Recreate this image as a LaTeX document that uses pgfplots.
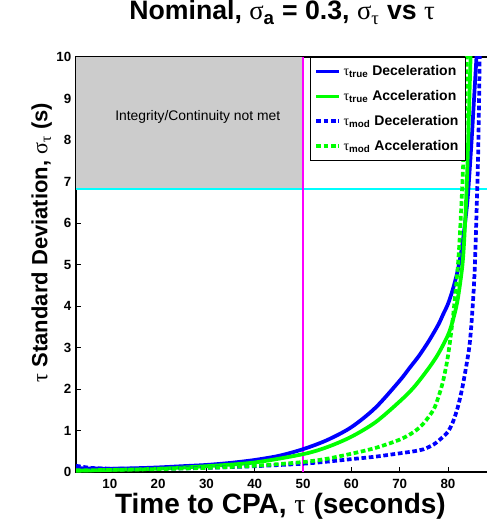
\documentclass[border=0pt]{standalone}
\usepackage{fontspec}
\setmainfont{Liberation Sans}
\newfontfamily\grk{Liberation Serif}
\usepackage{pgfplots}
\pgfplotsset{compat=1.18}
\definecolor{mgreen}{RGB}{0,255,0}
\definecolor{mblue}{RGB}{0,0,255}
\definecolor{mcyan}{RGB}{0,255,255}
\definecolor{mmag}{RGB}{255,0,255}
\definecolor{mgray}{RGB}{204,204,204}

\begin{document}
\begin{tikzpicture}
\begin{axis}[
    scale only axis,
    width=311.6pt, height=311.25pt,
    xmin=3, xmax=89, ymin=0, ymax=10,
    xtick={10,20,...,80}, ytick={0,1,...,10},
    xtick pos=both, xticklabel pos=bottom, ytick pos=left,
    axis line style={line width=0.8pt},
    tick align=inside, major tick length=4pt,
    tick style={black, line width=0.6pt},
    /pgf/number format/assume math mode=true,
    ticklabel style={font=\fontsize{10}{12}\selectfont\bfseries},
    xticklabel style={yshift=-1.5pt},
    title={\bfseries Nominal, {\grk\mdseries σ}\textsubscript{a} = 0.3, {\grk\mdseries σ}\textsubscript{\grk\mdseries τ} vs {\grk\mdseries τ}},
    title style={font=\fontsize{20}{22}\selectfont, at={(rel axis cs:0.496,1)}, anchor=base, yshift=21.75pt},
    xlabel={\bfseries Time to CPA, {\grk\mdseries τ} (seconds)},
    xlabel style={font=\fontsize{21}{23}\selectfont, at={(rel axis cs:0.492,0)}, anchor=base, yshift=-30.75pt},
    ylabel={\bfseries {\grk\mdseries τ} Standard Deviation, {\grk\mdseries σ}\textsubscript{\grk\mdseries τ} (s)},
    ylabel style={font=\fontsize{16.5}{19}\selectfont, at={(rel axis cs:-0.0686,0.553)}, anchor=base},
    legend cell align=left,
    legend style={at={(rel axis cs:0.938,1)}, anchor=north east,
        draw=black, line width=0.8pt, fill=white,
        font=\fontsize{10.5}{12}\selectfont\bfseries,
        row sep=5.5pt, inner ysep=4pt, inner xsep=3pt},
    legend image code/.code={\draw[#1] (0cm,0cm) -- (0.6cm,0cm);},
    every axis plot/.append style={line width=2.8pt},
]
% shaded region (not in legend)
\addplot[forget plot, fill=mgray, draw=none, line width=0pt] coordinates {(3,6.83) (50,6.83) (50,10) (3,10)} -- cycle;
\node[font=\fontsize{10.4}{12}\selectfont] at (axis cs:28.2,8.55) {Integrity/Continuity not met};
\addplot[forget plot, mcyan, line width=1.5pt] coordinates {(3,6.83) (89,6.83)};
\addplot[forget plot, mmag, line width=1.5pt] coordinates {(50,0) (50,10)};

% tau_true deceleration
\addplot[mblue, smooth] coordinates {
(3,0.09)(10,0.08)(15,0.09)(20,0.11)(25,0.14)(30,0.17)(35,0.22)(40,0.29)(45,0.39)
(50,0.55)(55,0.77)(60,1.08)(65,1.55)(70,2.2)(72,2.5)(74,2.8)(76,3.15)(78,3.55)
(79,3.8)(80,4.05)(81,4.4)(82,4.85)(83,5.5)(84,6.5)(84.5,7.3)(85,8.2)(85.5,9.2)(86,10.2)};
\addlegendentry{{\grk\mdseries τ}\textsubscript{true} Deceleration}
% tau_true acceleration
\addplot[mgreen, smooth] coordinates {
(3,0.03)(10,0.05)(20,0.08)(30,0.14)(40,0.23)(50,0.43)(55,0.6)(60,0.85)(65,1.2)
(70,1.7)(73,2.05)(76,2.5)(78,2.85)(80,3.3)(81,3.65)(82,4.15)(83,5.0)(83.5,5.9)
(84,7.3)(84.5,9.3)(84.8,10.5)};
\addlegendentry{{\grk\mdseries τ}\textsubscript{true} Acceleration}
% tau_mod deceleration
\addplot[mblue, smooth, dash pattern=on 3.5pt off 2pt] coordinates {
(3,0.15)(6,0.1)(10,0.08)(20,0.08)(30,0.1)(40,0.14)(50,0.2)(55,0.25)(60,0.31)
(65,0.37)(70,0.45)(73,0.5)(75,0.55)(77,0.66)(78,0.75)(79,0.85)(80,0.97)(81,1.2)
(82,1.55)(83,2.05)(84,2.7)(84.5,3.1)(85,3.8)(85.5,4.8)(86,6.6)(86.3,8.0)(86.6,10.3)};
\addlegendentry{{\grk\mdseries τ}\textsubscript{mod} Deceleration}
% tau_mod acceleration
\addplot[mgreen, smooth, dash pattern=on 3.5pt off 2pt] coordinates {
(3,0.04)(10,0.05)(20,0.07)(30,0.1)(40,0.15)(50,0.24)(55,0.32)(60,0.44)(65,0.58)
(70,0.78)(73,0.97)(75,1.18)(77,1.5)(78,1.8)(79,2.2)(80,2.8)(81,3.7)(82,4.9)
(82.5,5.8)(83,7.0)(83.5,8.5)(84,10.3)};
\addlegendentry{{\grk\mdseries τ}\textsubscript{mod} Acceleration}

\coordinate (sw) at (rel axis cs:0,0);
\coordinate (ne) at (rel axis cs:0.9884,1);
\end{axis}
\pgfresetboundingbox
\path ([shift={(-57pt,-36pt)}]sw) rectangle ([shift={(0pt,42.75pt)}]ne);
\end{tikzpicture}
\end{document}
